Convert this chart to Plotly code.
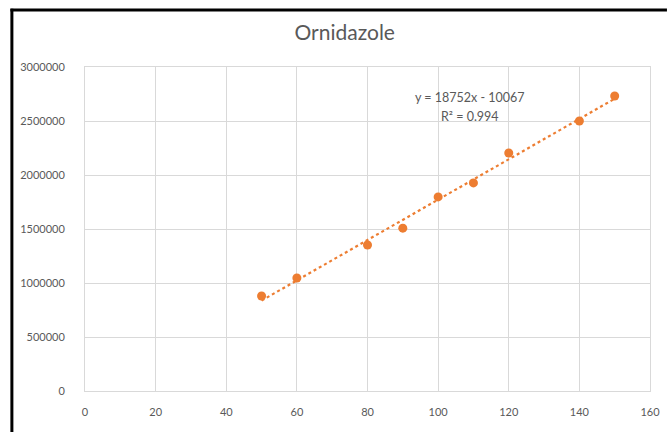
import numpy as np
import plotly.graph_objs as go

# concentration vs peak area
conc = [50, 60, 80, 90, 100, 110, 120, 140, 150]
area = [880000, 1046000, 1352000, 1508000, 1797000, 1927000, 2204000, 2500000, 2731000]

x_ticks = [0, 20, 40, 60, 80, 100, 120, 140, 160]
y_ticks = [0, 500000, 1000000, 1500000, 2000000, 2500000, 3000000]

eq_line = "y = 18752x - 10067"
r2_line = "R² = 0.994"

orange = "#ED7D31"
grey_txt = "#595959"
grid = "#D9D9D9"
font_name = "Lato, sans-serif"

# linear trendline fitted to the points
slope, intercept = np.polyfit(conc, area, 1)
fit_x = [min(conc), max(conc)]
fit_y = [slope * v + intercept for v in fit_x]

fig = go.Figure()

fig.add_trace(go.Scatter(
    x = fit_x,
    y = fit_y,
    mode = "lines",
    line = dict(color = orange, width = 2.2, dash = "dot"),
    showlegend = False,
    hoverinfo = "skip"
))

fig.add_trace(go.Scatter(
    x = conc,
    y = area,
    mode = "markers",
    marker = dict(color = orange, size = 9),
    showlegend = False
))

fig.add_annotation(x = 109, y = 2722000, xref = "x", yref = "y", text = eq_line,
                   showarrow = False, font = dict(size = 12.5, color = grey_txt, family = font_name))
fig.add_annotation(x = 109, y = 2546000, xref = "x", yref = "y", text = r2_line,
                   showarrow = False, font = dict(size = 12.5, color = grey_txt, family = font_name))

fig.update_layout(
    title = dict(text = "Ornidazole", x = 0.513, xanchor = "center", y = 0.925, yanchor = "middle",
                 font = dict(size = 21, color = grey_txt, family = font_name)),
    width = 672,
    height = 432,
    margin = dict(l = 85, r = 15, t = 67, b = 41),
    plot_bgcolor = "white",
    paper_bgcolor = "white",
    font = dict(family = font_name, color = grey_txt, size = 11),
    shapes = [
        dict(type = "line", xref = "paper", yref = "paper", x0 = -0.1320, x1 = 1.03, y0 = 1.176, y1 = 1.176,
             line = dict(color = "black", width = 3)),
        dict(type = "line", xref = "paper", yref = "paper", x0 = -0.1294, x1 = -0.1294, y0 = 1.18, y1 = -0.2,
             line = dict(color = "black", width = 3)),
    ]
)

fig.update_xaxes(
    range = [0, 160],
    tickvals = x_ticks,
    showgrid = True,
    gridcolor = grid,
    gridwidth = 1,
    zeroline = False,
    showline = True,
    linecolor = grid,
    mirror = True,
    ticks = "",
    ticklabelstandoff = 11,
    tickfont = dict(size = 11, color = grey_txt)
)

fig.update_yaxes(
    range = [0, 3000000],
    tickvals = y_ticks,
    tickformat = "d",
    showgrid = True,
    gridcolor = grid,
    gridwidth = 1,
    zeroline = False,
    showline = True,
    linecolor = grid,
    mirror = True,
    ticks = "",
    ticklabelstandoff = 17,
    tickfont = dict(size = 11, color = grey_txt)
)

fig.write_html("out.html", config = dict(displayModeBar = False),
               post_script = "document.body.style.margin = '0'; document.body.style.overflow = 'hidden';")
